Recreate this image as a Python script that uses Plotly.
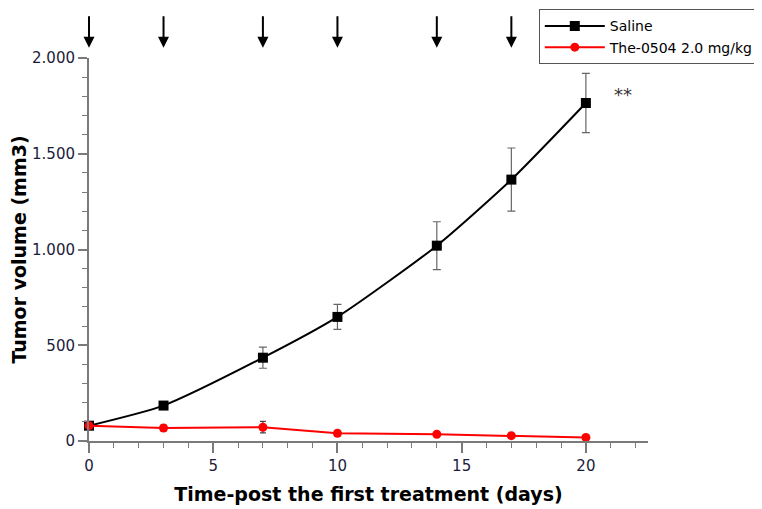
import plotly.graph_objects as go

days = [0, 3, 7, 10, 14, 17, 20]
saline = [80, 185, 435, 648, 1020, 1365, 1765]
saline_err = [15, 20, 55, 65, 125, 165, 155]
the0504 = [80, 68, 72, 40, 35, 28, 18]
the0504_err = [12, 15, 30, 15, 10, 10, 8]
dose_days = [0, 3, 7, 10, 14, 17]
y_ticks = [0, 500, 1000, 1500, 2000]
y_ticklabels = ["0", "500", "1.000", "1.500", "2.000"]
x_ticks = [0, 5, 10, 15, 20]

font_family = "DejaVu Sans"
tick_color = "#1c1c3a"
axis_color = "#7a7a7a"

fig = go.Figure()
fig.add_trace(go.Scatter(
    x=days, y=saline, name="Saline", mode="lines+markers",
    line=dict(color="black", width=2, shape="spline", smoothing=0.6),
    marker=dict(symbol="square", size=10, color="black"),
    error_y=dict(type="data", array=saline_err, color="#666666", thickness=1.2, width=4),
    cliponaxis=False,
))
fig.add_trace(go.Scatter(
    x=days, y=the0504, name="The-0504 2.0 mg/kg", mode="lines+markers",
    line=dict(color="red", width=2),
    marker=dict(symbol="circle", size=9, color="red"),
    error_y=dict(type="data", array=the0504_err, color="#444444", thickness=1.2, width=3),
    cliponaxis=False,
))

for d in dose_days:
    fig.add_annotation(
        x=d, y=1.027, xref="x", yref="paper", ax=0, ay=-33,
        showarrow=True, arrowhead=2, arrowsize=1.1, arrowwidth=2, arrowcolor="black", text="",
    )

fig.add_annotation(x=21.5, y=1810, xref="x", yref="y", text="**", showarrow=False,
                   font=dict(family=font_family, size=18, color="#333333"))

fig.update_layout(
    width=754, height=501,
    margin=dict(l=81, r=114, t=50, b=68, autoexpand=False),
    plot_bgcolor="white", paper_bgcolor="white",
    font=dict(family=font_family, color=tick_color),
    showlegend=True,
    legend=dict(
        x=1.2, xanchor="right", y=1.127, yanchor="top",
        xref="paper", yref="paper",
        bordercolor="#555555", borderwidth=1,
        font=dict(family=font_family, size=14, color="black"),
        bgcolor="white",
        itemwidth=60,
        tracegroupgap=2,
    ),
    xaxis=dict(
        range=[0, 22.5], tickvals=x_ticks, showgrid=False, zeroline=False, automargin=False,
        showline=True, linecolor=axis_color, linewidth=2,
        ticks="outside", ticklen=10, tickwidth=1.5, tickcolor=axis_color,
        tickfont=dict(size=15, color=tick_color),
        minor=dict(dtick=1, ticks="outside", ticklen=5, tickcolor=axis_color, tickwidth=1),
        title=dict(text="<b>Time-post the first treatment (days)</b>",
                   font=dict(size=19, color="black"), standoff=14),
    ),
    yaxis=dict(
        range=[0, 2000], tickvals=y_ticks, ticktext=y_ticklabels,
        showgrid=False, zeroline=False, automargin=False,
        showline=True, linecolor=axis_color, linewidth=2,
        ticks="outside", ticklen=9, tickwidth=1.5, tickcolor=axis_color,
        tickfont=dict(size=15, color=tick_color),
        minor=dict(dtick=100, ticks="outside", ticklen=5, tickcolor=axis_color, tickwidth=1),
        title=dict(text="<b>Tumor volume (mm3)</b>", font=dict(size=19, color="black"), standoff=6),
    ),
)

fig.write_html("out.html")
